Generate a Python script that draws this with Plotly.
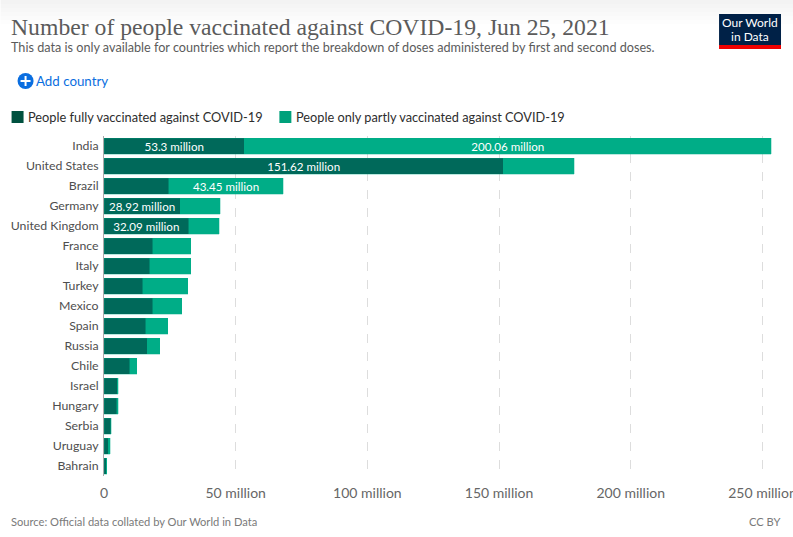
import plotly.graph_objects as go

countries = ["India", "United States", "Brazil", "Germany", "United Kingdom", "France", "Italy",
             "Turkey", "Mexico", "Spain", "Russia", "Chile", "Israel", "Hungary", "Serbia",
             "Uruguay", "Bahrain"]
fully = [53.3, 151.62, 24.6, 28.92, 32.09, 18.5, 17.3, 14.7, 18.5, 15.8, 16.5, 9.8, 5.1, 4.8, 2.5, 1.7, 0.9]
partly = [200.06, 26.9, 43.45, 15.3, 11.7, 14.4, 15.6, 17.1, 11.0, 8.4, 4.6, 2.6, 0.4, 0.6, 0.3, 0.7, 0.1]
fully_labels = ["53.3 million", "151.62 million", "", "28.92 million", "32.09 million"] + [""] * 12
partly_labels = ["200.06 million", "", "43.45 million"] + [""] * 14
tick_vals = [0, 50, 100, 150, 200, 250]
tick_text = ["0", "50 million", "100 million", "150 million", "200 million", "250 million"]

W, H = 793, 537
L, T, B = 103.5, 136, 476
F = "Lato, sans-serif"


def px(x):
    return (x - L) / (W - L)


def py(y):
    return (B - y) / (B - T)


fig = go.Figure()
for vals, labels, col, name in [(fully, fully_labels, "#00695a", "People fully vaccinated against COVID-19"),
                                (partly, partly_labels, "#00ad87", "People only partly vaccinated against COVID-19")]:
    fig.add_bar(y=countries, x=vals, orientation="h", name=name, text=labels,
                textposition="inside", insidetextanchor="middle", textangle=0, constraintext="none",
                textfont=dict(family=F, size=11.6, color="white"),
                marker=dict(color=col, line=dict(color="rgba(0,173,135,0.45)", width=0.6)),
                showlegend=False, hoverinfo="skip")

shapes = []
for i, c in enumerate(["#f3f3f3", "#f5f5f5", "#f7f7f7", "#f9f9f9", "#fbfbfb", "#fdfdfd"]):
    shapes.append(dict(type="rect", xref="paper", yref="paper", x0=px(0), x1=px(W), y0=py(4 * i + 4), y1=py(4 * i),
                       fillcolor=c, line_width=0, layer="below"))
shapes.append(dict(type="rect", xref="paper", yref="paper", x0=px(11), x1=px(23), y0=py(123), y1=py(111),
                   fillcolor="#00513f", line_width=0))
shapes.append(dict(type="rect", xref="paper", yref="paper", x0=px(279), x1=px(291), y0=py(123), y1=py(111),
                   fillcolor="#00a17b", line_width=0))
shapes.append(dict(type="circle", xref="paper", yref="paper", x0=px(17), x1=px(33), y0=py(89), y1=py(73),
                   fillcolor="#0a6ee0", line_width=0))
shapes.append(dict(type="line", xref="paper", yref="paper", x0=px(20), x1=px(30), y0=py(81), y1=py(81),
                   line=dict(color="white", width=2)))
shapes.append(dict(type="line", xref="paper", yref="paper", x0=px(25), x1=px(25), y0=py(76), y1=py(86),
                   line=dict(color="white", width=2)))
shapes.append(dict(type="rect", xref="paper", yref="paper", x0=px(719), x1=px(781), y0=py(45), y1=py(14),
                   fillcolor="#002147", line_width=0))
shapes.append(dict(type="rect", xref="paper", yref="paper", x0=px(719), x1=px(781), y0=py(49), y1=py(45),
                   fillcolor="#f00000", line_width=0))


def note(x, y, text, size, color, family=F, anchor="left"):
    return dict(xref="paper", yref="paper", x=px(x), y=py(y), text=text, showarrow=False, xanchor=anchor,
                yanchor="middle", font=dict(family=family, size=size, color=color), borderpad=0, borderwidth=0)


annotations = [
    note(10, 27, "Number of people vaccinated against COVID-19, Jun 25, 2021", 23.7, "#5b5b5b", "Liberation Serif"),
    note(10, 47, "This data is only available for countries which report the breakdown of doses administered by first and second doses.", 12.65, "#5b5b5b"),
    note(35, 81, "Add country", 13.3, "#0a6ee0"),
    note(27, 117, "People fully vaccinated against COVID-19", 12.8, "#2d2d2d"),
    note(296, 117, "People only partly vaccinated against COVID-19", 12.75, "#2d2d2d"),
    note(750, 22, "Our World", 12, "white", anchor="center"),
    note(750, 36.5, "in Data", 12, "white", anchor="center"),
    note(10, 521, "Source: Official data collated by Our World in Data", 11.15, "#7a7a7a"),
    note(781, 521, "CC BY", 11.15, "#7a7a7a", anchor="right"),
]

fig.update_layout(
    width=W, height=H, barmode="stack", bargap=0.2,
    paper_bgcolor="white", plot_bgcolor="white",
    margin=dict(l=L, r=0, t=T, b=H - B, pad=0),
    shapes=shapes, annotations=annotations,
    xaxis=dict(range=[0, 261.6], tickvals=tick_vals, ticktext=tick_text, side="bottom",
               tickfont=dict(family=F, size=14, color="#666666"), ticks="", ticklabelstandoff=7,
               ticklabeloverflow="allow",
               showgrid=True, gridcolor="#dddddd", griddash="dash", gridwidth=1, zeroline=False,
               showline=False, automargin=False),
    yaxis=dict(autorange="reversed", type="category", categoryorder="array", categoryarray=countries,
               tickfont=dict(family=F, size=12.3, color="#4e4e4e"), ticks="", ticklabelstandoff=2,
               showgrid=False, showline=True, linecolor="#aaaaaa", linewidth=1, automargin=False),
    font=dict(family=F),
)
fig.write_html("out.html", config=dict(displayModeBar=False),
               post_script="document.body.style.margin='0';document.documentElement.style.overflow='hidden';")
